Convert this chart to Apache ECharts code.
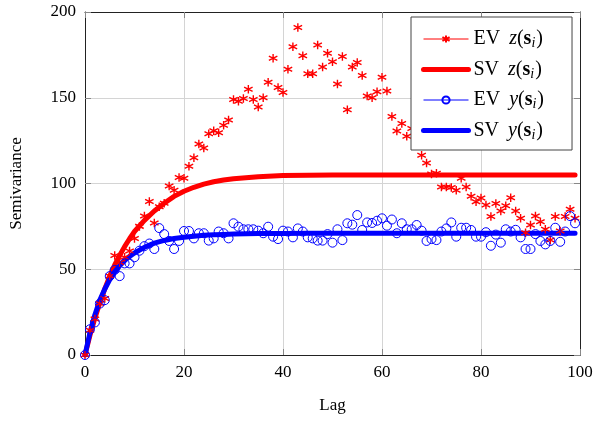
<!DOCTYPE html>
<html>
<head>
<meta charset="utf-8">
<script src="https://cdn.jsdelivr.net/npm/echarts@6/dist/echarts.min.js"></script>
<style>
  html, body { margin: 0; padding: 0; background: #fff; }
  #chart { width: 600px; height: 422px; }
</style>
</head>
<body>
<div id="chart"></div>
<script>
// empirical variograms, one value per lag 0..99
var lags = [];
for (var k = 0; k < 100; k++) { lags.push(k); }

var evZ = [0, 14.5, 21, 30, 33, 46, 58, 54, 57, 60.6,
    68, 75, 81, 89.5, 77, 86.5, 88.5, 98.5, 96, 103.5,
    103, 110, 115, 123, 120.7, 129, 130.8, 129.6, 134, 137,
    149, 148, 149.5, 155, 149, 144.6, 150, 159, 173, 156,
    153, 166.6, 179.8, 190.9, 174.5, 164, 164, 180.8, 168, 176,
    171, 158, 174, 143, 168, 170.5, 163, 151, 150, 153.5,
    162, 154, 139, 130.6, 135, 127.5, 132, 123, 116.5, 112,
    105.5, 106, 98, 98, 97.6, 96, 103, 98, 92.5, 89.4,
    91.5, 87.5, 80.7, 88.4, 84, 87, 91.7, 84, 79.7, 71.3,
    75.8, 81, 77.7, 73.3, 67, 80.7, 72.3, 80.7, 85, 79.7];

var evY = [0, 15, 19, 30, 32, 46, 49.6, 46, 53.4, 53.4,
    57, 60.8, 63.5, 65, 61.8, 74, 70.5, 66.5, 61.8, 66.5,
    72.3, 72.3, 68, 71, 71, 66.7, 68, 72, 71, 68,
    76.8, 74.8, 73.3, 73.3, 73.3, 72.5, 71, 74.8, 69, 67.6,
    72.5, 72, 68.6, 73.8, 72, 68.6, 68, 66.7, 66.7, 70.5,
    65.5, 73.3, 67, 76.8, 76, 81.6, 72.9, 77.3, 77, 78.3,
    79.7, 75.4, 79, 71, 76.8, 73.3, 73.3, 75.8, 72.5, 66.5,
    67.6, 67, 72, 73.8, 77.3, 69, 74.2, 74.2, 72.9, 69,
    69, 71.6, 63.7, 70.2, 65.5, 73.3, 72, 73, 68.6, 61.8,
    61.8, 70.5, 66.5, 64.5, 66.5, 74.2, 66, 72, 81, 76.8];

// fitted (theoretical) variograms
var svLags = [0, 1, 2, 3, 4, 5, 6, 7, 8, 9, 10, 12, 14, 16, 18, 20, 22, 24, 26, 28, 30,
    35, 40, 45, 50, 60, 70, 80, 90, 99];
var svZ = [0, 11.5, 21.5, 30.5, 38.5, 46, 52.5, 58, 63.2, 67.8, 72, 78.5, 84, 88.5, 92.5, 95.5,
    97.8, 99.6, 101, 102, 102.8, 104, 104.6, 104.8, 104.9, 105, 105, 105, 105, 105];
var svY = [0, 13, 23.5, 32, 38.5, 44, 48.5, 52, 55, 57.5, 59.5, 62.8, 65.2, 66.8, 67.9, 68.7,
    69.3, 69.8, 70.1, 70.3, 70.5, 70.8, 70.9, 71, 71, 71, 71, 71, 71, 71];

var serif = '"Liberation Serif", "DejaVu Serif", serif';
var asterisk = 'path://M0,-10 L0,10 M-8.66,-5 L8.66,5 M-8.66,5 L8.66,-5';

function pairs(xs, ys) {
    var out = [];
    for (var i = 0; i < xs.length; i++) { out.push([xs[i], ys[i]]); }
    return out;
}

var rich = {
    r: { fontFamily: serif, fontSize: 20, color: '#000' },
    gap: { fontFamily: serif, fontSize: 20, color: '#000', width: 9 },
    i: { fontFamily: serif, fontSize: 20, fontStyle: 'italic', color: '#000' },
    b: { fontFamily: serif, fontSize: 20, fontWeight: 'bold', color: '#000' },
    s: { fontFamily: serif, fontSize: 14, fontStyle: 'italic', color: '#000', padding: [9, 1, 0, 0] }
};

function legendName(name) {
    var parts = name.split(' ');
    return '{r|' + parts[0] + '}{gap|}{i|' + parts[1] + '}{r|(}{b|s}{s|i}{r|)}';
}

var frameAxis = {
    type: 'value', min: 0, max: 100, interval: 20,
    axisLine: { show: true, onZero: false, lineStyle: { color: '#222', width: 1 } },
    axisTick: { show: true, inside: true, length: 6, lineStyle: { color: '#888' } },
    axisLabel: { show: false },
    splitLine: { show: false }
};

var option = {
    animation: false,
    backgroundColor: '#fff',
    grid: { left: 83, right: 20, top: 12, bottom: 67, containLabel: false },
    legend: {
        orient: 'vertical',
        left: 411,
        top: 17,
        padding: [11, 28, 8, 10],
        itemGap: 8,
        itemWidth: 45,
        itemHeight: 9,
        backgroundColor: '#fff',
        borderColor: '#444',
        borderWidth: 1,
        borderRadius: 0,
        formatter: legendName,
        textStyle: { rich: rich, lineHeight: 22 },
        data: [
            { name: 'EV z', lineStyle: { width: 1, color: '#ff0000', opacity: 1 } },
            { name: 'SV z', lineStyle: { width: 5, color: '#ff0000' }, itemStyle: { opacity: 0 } },
            { name: 'EV y', lineStyle: { width: 1, color: '#0000ff', opacity: 1 } },
            { name: 'SV y', lineStyle: { width: 5, color: '#0000ff' }, itemStyle: { opacity: 0 } }
        ]
    },
    xAxis: [{
        type: 'value', min: 0, max: 100, interval: 20,
        name: 'Lag', nameLocation: 'middle', nameGap: 42,
        nameTextStyle: { fontFamily: serif, fontSize: 17, color: '#000' },
        axisLine: { show: true, onZero: false, lineStyle: { color: '#222', width: 1 } },
        axisTick: { show: true, inside: true, length: 6, lineStyle: { color: '#888' } },
        axisLabel: { fontFamily: serif, fontSize: 17, color: '#000', margin: 9 },
        splitLine: { show: true, lineStyle: { color: '#d4d4d4', width: 1 } }
    }, Object.assign({ position: 'top' }, frameAxis)],
    yAxis: [{
        type: 'value', min: 0, max: 200, interval: 50,
        name: 'Semivariance', nameLocation: 'middle', nameGap: 60, nameRotate: 90,
        nameTextStyle: { fontFamily: serif, fontSize: 17, color: '#000' },
        axisLine: { show: true, onZero: false, lineStyle: { color: '#222', width: 1 } },
        axisTick: { show: true, inside: true, length: 6, lineStyle: { color: '#888' } },
        axisLabel: { fontFamily: serif, fontSize: 17, color: '#000', margin: 9 },
        splitLine: { show: true, lineStyle: { color: '#d4d4d4', width: 1 } }
    }, Object.assign({}, frameAxis, { position: 'right', max: 200, interval: 50 })],
    series: [
        {
            name: 'EV z', type: 'line', data: pairs(lags, evZ),
            symbol: asterisk, symbolSize: 8.5,
            itemStyle: { color: '#ff0000', borderColor: '#ff0000', borderWidth: 1.4 },
            lineStyle: { width: 0, opacity: 0 }
        },
        {
            name: 'SV z', type: 'line', data: pairs(svLags, svZ),
            symbol: 'none', smooth: false,
            itemStyle: { color: '#ff0000' },
            lineStyle: { width: 5, color: '#ff0000', cap: 'round', join: 'round' }
        },
        {
            name: 'EV y', type: 'line', data: pairs(lags, evY),
            symbol: 'circle', symbolSize: 9,
            itemStyle: { color: 'rgba(0,0,0,0)', borderColor: '#0000ff', borderWidth: 1 },
            lineStyle: { width: 0, opacity: 0 }
        },
        {
            name: 'SV y', type: 'line', data: pairs(svLags, svY),
            symbol: 'none', smooth: false,
            itemStyle: { color: '#0000ff' },
            lineStyle: { width: 5, color: '#0000ff', cap: 'round', join: 'round' }
        }
    ]
};

var chart = echarts.init(document.getElementById('chart'), null, { renderer: 'canvas' });
chart.setOption(option);
</script>
</body>
</html>
